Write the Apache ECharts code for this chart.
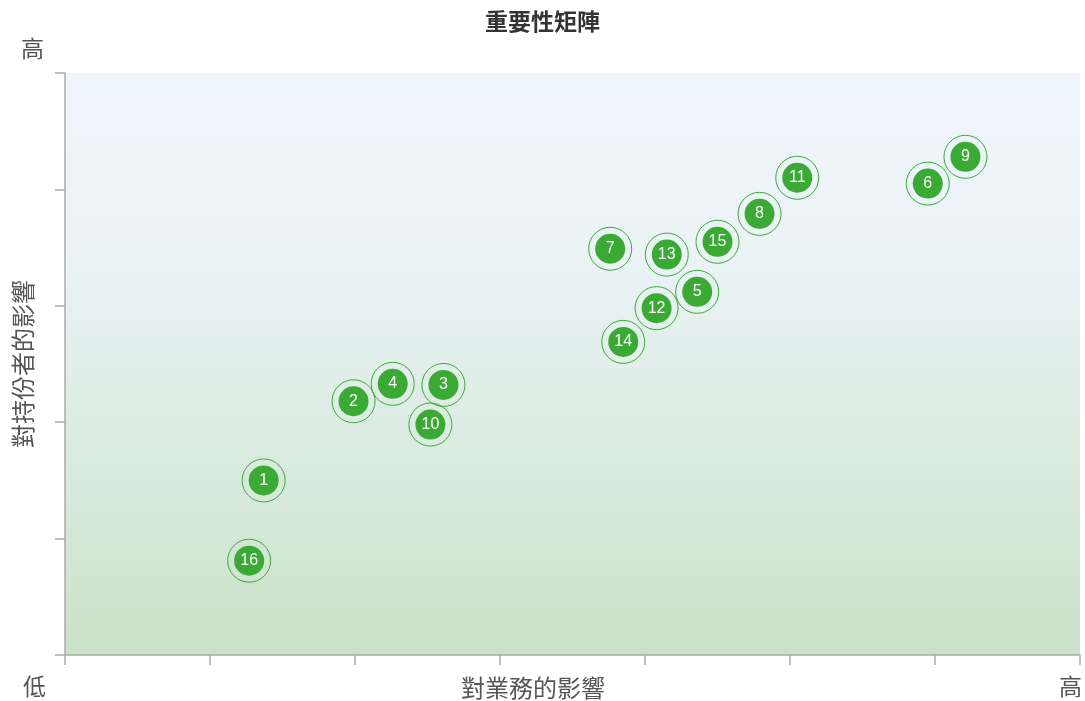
<!DOCTYPE html>
<html><head><meta charset="utf-8">
<script src="https://cdn.jsdelivr.net/npm/echarts@6/dist/echarts.min.js"></script>
<style>html,body{margin:0;padding:0;background:#fff}#c{width:1085px;height:701px}</style>
</head><body><div id="c"></div>
<script>
const ids = ['1','16','2','4','3','10','7','13','15','14','12','5','8','11','6','9'];
const xVals = [1.37, 1.27, 1.99, 2.26, 2.61, 2.52, 3.76, 4.15, 4.50, 3.85, 4.08, 4.36, 4.79, 5.05, 5.95, 6.21];
const yVals = [1.50, 0.81, 2.18, 2.33, 2.32, 1.98, 3.49, 3.44, 3.55, 2.69, 2.98, 3.12, 3.79, 4.10, 4.05, 4.28];
const titleText = '重要性矩陣';
const xName = '對業務的影響';
const yName = '對持份者的影響';
const lowText = '低', highText = '高';

const pts = ids.map((id, i) => [xVals[i], yVals[i], id]);
const FONT = '"Noto Sans CJK TC", "Noto Sans", sans-serif';
const green = '#3aaa35';
const chart = echarts.init(document.getElementById('c'));
chart.setOption({
  animation: false,
  title: { text: titleText, left: 'center', top: 5, textStyle: { fontFamily: FONT, fontSize: 23, fontWeight: 'bold', color: '#333' } },
  grid: {
    left: 65, right: 5, top: 73, bottom: 46, show: true, borderWidth: 0,
    containLabel: false, outerBoundsMode: 'none',
    backgroundColor: new echarts.graphic.LinearGradient(0, 0, 0, 1, [
      { offset: 0, color: '#eef5fd' },
      { offset: 0.3, color: '#ebf3f7' },
      { offset: 1, color: '#c9e2c8' }
    ])
  },
  xAxis: {
    type: 'value', min: 0, max: 7, interval: 1,
    axisLine: { show: true, lineStyle: { color: '#aaa', width: 1.5 } },
    axisTick: { show: true, length: 10, lineStyle: { color: '#aaa', width: 1.5 } },
    axisLabel: { show: false }, splitLine: { show: false }
  },
  yAxis: {
    type: 'value', min: 0, max: 5, interval: 1,
    axisLine: { show: true, lineStyle: { color: '#aaa', width: 1.5 } },
    axisTick: { show: true, length: 10, lineStyle: { color: '#aaa', width: 1.5 } },
    axisLabel: { show: false }, splitLine: { show: false },
    name: yName, nameLocation: 'middle', nameGap: 30, nameRotate: 90,
    nameTextStyle: { fontFamily: FONT, fontSize: 24, color: '#555' }
  },
  graphic: [
    { type: 'text', left: 21, top: 37, style: { text: highText, font: '23px ' + FONT, fill: '#555' } },
    { type: 'text', left: 23, top: 675, style: { text: lowText, font: '23px ' + FONT, fill: '#555' } },
    { type: 'text', left: 1059, top: 675, style: { text: highText, font: '23px ' + FONT, fill: '#555' } },
    { type: 'text', x: 533, y: 688, style: { text: xName, font: '24px ' + FONT, fill: '#555', align: 'center', verticalAlign: 'middle' } }
  ],
  series: [
    {
      type: 'scatter', data: pts, symbolSize: 43, silent: true,
      itemStyle: { color: 'rgba(0,0,0,0)', borderColor: green, borderWidth: 1, opacity: 1 }
    },
    {
      type: 'scatter', data: pts, symbolSize: 30,
      itemStyle: { color: green, opacity: 1 },
      label: { show: true, position: 'inside', formatter: p => p.value[2], color: '#fff', fontSize: 16, fontFamily: '"Liberation Sans", Arial, sans-serif' }
    }
  ]
});
</script></body></html>
